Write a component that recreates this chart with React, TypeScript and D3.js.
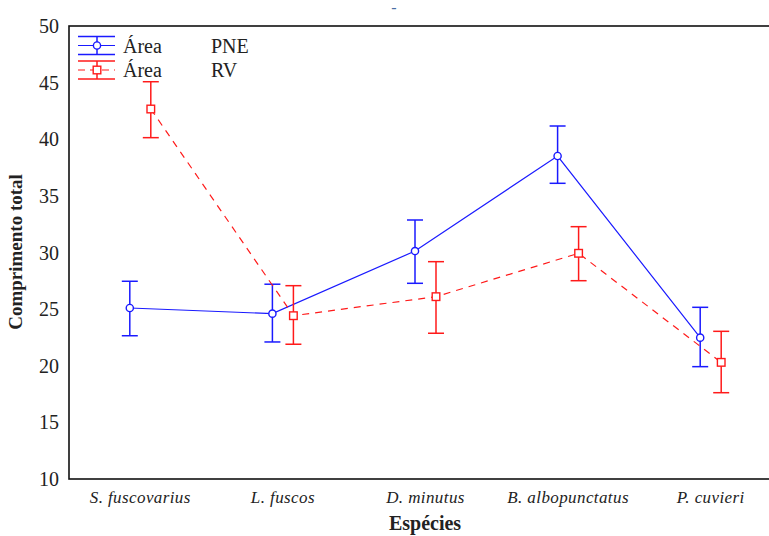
import React from "react";
import * as d3 from "d3";

const categories = ["S. fuscovarius", "L. fuscos", "D. minutus", "B. albopunctatus", "P. cuvieri"];
const pneMean = [25.1, 24.6, 30.13, 38.52, 22.48];
const pneLow = [22.65, 22.1, 27.28, 36.11, 19.92];
const pneHigh = [27.46, 27.2, 32.87, 41.17, 25.16];
const rvMean = [42.67, 24.42, 26.1, 29.93, 20.3];
const rvLow = [40.14, 21.9, 22.87, 27.51, 17.62];
const rvHigh = [45.08, 27.07, 29.19, 32.28, 23.04];
const yTicks = [10, 15, 20, 25, 30, 35, 40, 45, 50];

const W = 769, H = 536;
const M = { left: 69, top: 26, right: 782, bottom: 479 };
const BLUE = "#1a1aff";
const RED = "#ff1a1a";
const SERIF = "Liberation Serif, DejaVu Serif, serif";
const ts = { fontFamily: SERIF };

export default function App() {
  const x = d3.scaleBand<string>().domain(categories).range([M.left, M.right]);
  const y = d3.scaleLinear().domain([10, 50]).range([M.bottom, M.top]);
  const cx = (c: string) => (x(c) as number) + x.bandwidth() / 2;
  const off = 10.5;

  const series = [
    { name: "PNE", mean: pneMean, lo: pneLow, hi: pneHigh, color: BLUE, dx: -off, dash: undefined as string | undefined, marker: "circle" },
    { name: "RV", mean: rvMean, lo: rvLow, hi: rvHigh, color: RED, dx: off, dash: "7,6", marker: "square" },
  ];

  const line = d3.line<[number, number]>().x((d) => d[0]).y((d) => d[1]);

  return (
    <svg width={W} height={H} style={{ position: "absolute", left: 0, top: 0, background: "#fff" }}>
      <rect width={W} height={H} fill="#fff" />
      <text x={394} y={13} fontSize={16} fill="#4a6fa5" textAnchor="middle" style={ts}>-</text>
      {/* frame */}
      <rect x={M.left} y={M.top} width={M.right - M.left} height={M.bottom - M.top} fill="none" stroke="#111" strokeWidth={1.6} />
      {/* y tick labels */}
      {yTicks.map((t) => (
        <text key={t} x={59} y={y(t)} dy="0.35em" textAnchor="end" fontSize={20} fill="#222" style={ts}>{t}</text>
      ))}
      {/* x labels */}
      {categories.map((c) => (
        <text key={c} x={cx(c)} y={503} textAnchor="middle" fontSize={17} fontStyle="italic" letterSpacing={0.4} fill="#222" style={ts}>{c}</text>
      ))}
      <text x={425} y={530} textAnchor="middle" fontSize={20} fontWeight="bold" fill="#222" style={ts}>Espécies</text>
      <text transform={`translate(22,252) rotate(-90)`} textAnchor="middle" fontSize={19} fontWeight="bold" fill="#222" style={ts}>Comprimento total</text>

      {series.map((s) => {
        const pts: [number, number][] = categories.map((c, i) => [cx(c) + s.dx, y(s.mean[i])]);
        return (
          <g key={s.name}>
            <path d={line(pts) as string} fill="none" stroke={s.color} strokeWidth={1.2} strokeDasharray={s.dash} />
            {categories.map((c, i) => {
              const px = cx(c) + s.dx;
              return (
                <g key={c} stroke={s.color} strokeWidth={1.5}>
                  <line x1={px} x2={px} y1={y(s.lo[i])} y2={y(s.hi[i])} />
                  <line x1={px - 8} x2={px + 8} y1={y(s.lo[i])} y2={y(s.lo[i])} />
                  <line x1={px - 8} x2={px + 8} y1={y(s.hi[i])} y2={y(s.hi[i])} />
                  {s.marker === "circle" ? (
                    <circle cx={px} cy={y(s.mean[i])} r={3.6} fill="#fff" strokeWidth={1.4} />
                  ) : (
                    <rect x={px - 3.8} y={y(s.mean[i]) - 3.8} width={7.6} height={7.6} fill="#fff" strokeWidth={1.4} />
                  )}
                </g>
              );
            })}
          </g>
        );
      })}

      {/* legend */}
      {series.map((s, i) => {
        const cy = 45.5 + i * 24.5;
        const lx = 97;
        return (
          <g key={s.name}>
            <g stroke={s.color} strokeWidth={1.5}>
              <line x1={78} x2={115} y1={cy - 9} y2={cy - 9} />
              <line x1={78} x2={115} y1={cy + 9} y2={cy + 9} />
              <line x1={lx} x2={lx} y1={cy - 9} y2={cy + 9} />
              <line x1={78} x2={115} y1={cy} y2={cy} strokeDasharray={s.dash ? "7,5" : undefined} strokeWidth={1.2} />
              {s.marker === "circle" ? (
                <circle cx={lx} cy={cy} r={3.6} fill="#fff" strokeWidth={1.4} />
              ) : (
                <rect x={lx - 3.8} y={cy - 3.8} width={7.6} height={7.6} fill="#fff" strokeWidth={1.4} />
              )}
            </g>
            <text x={123} y={cy + 7} fontSize={20} fill="#222" style={ts}>Área</text>
            <text x={211} y={cy + 7} fontSize={20} fill="#222" style={ts}>{s.name}</text>
          </g>
        );
      })}
    </svg>
  );
}
